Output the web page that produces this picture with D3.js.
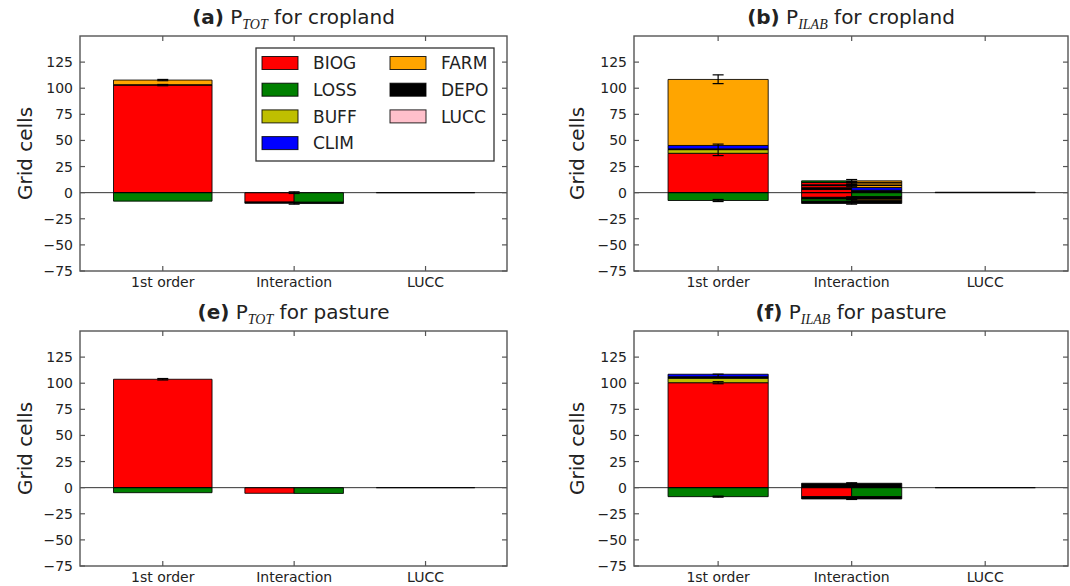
<!DOCTYPE html>
<html>
<head>
<meta charset="utf-8">
<script src="https://cdn.jsdelivr.net/npm/d3@7"></script>
<style>
  html, body { margin: 0; padding: 0; background: #fff; }
  svg { display: block; font-family: "DejaVu Sans", sans-serif; }
</style>
</head>
<body>
<script>
// ---------------- DATA ----------------
const categories = ["1st order", "Interaction", "LUCC"];
const drivers = ["BIOG", "LOSS", "BUFF", "CLIM", "FARM", "DEPO", "LUCC"];
const driverColors = ["#ff0000", "#008000", "#bfbf00", "#0000ff", "#ffa500", "#000000", "#ffc0cb"];
const yTicks = [-75, -50, -25, 0, 25, 50, 75, 100, 125];
const yDomain = [-75, 150];
const xDomain = [-0.63, 2.62];

// stacks: [driver, value]; positives stacked up from 0, negatives stacked down from 0
// (a) P_TOT cropland
const a_first  = [["BIOG", 103], ["DEPO", 0.4], ["FARM", 4.4], ["LOSS", -8.1]];
const a_interL = [["BIOG", -9.0], ["DEPO", -1.2]];
const a_interR = [["LOSS", -9.2], ["DEPO", -1.2]];
const a_lucc   = [["LUCC", 0]];
const a_err    = [["1st order", 103, 0.6], ["1st order", 107.8, 0.6], ["Interaction", 0, 0.8], ["Interaction", -10.2, 0.8]];

// (b) P_ILAB cropland
const b_first  = [["BIOG", 37.7], ["BUFF", 3.5], ["DEPO", 0.8], ["CLIM", 3.2], ["FARM", 63.2], ["LOSS", -7.5]];
const b_interL = [["BIOG", 3.0], ["DEPO", 1.8], ["BIOG", 2.0], ["DEPO", 0.8], ["BIOG", 2.2], ["LOSS", 1.5],
                  ["BIOG", -4.5], ["DEPO", -1.5], ["LOSS", -2.3], ["DEPO", -2.0]];
const b_interR = [["DEPO", 2.3], ["CLIM", 2.6], ["FARM", 2.0], ["DEPO", 0.5], ["FARM", 2.0], ["DEPO", 0.4], ["FARM", 1.5],
                  ["LOSS", -3.8], ["DEPO", -2.6], ["FARM", -1.3], ["DEPO", -2.6]];
const b_lucc   = [["LUCC", 0.4]];
const b_err    = [["1st order", 108.6, 4.2], ["1st order", 41.0, 5.5], ["1st order", -7.5, 1.0],
                  ["Interaction", 11.3, 1.3], ["Interaction", 9.2, 1.3], ["Interaction", 7.0, 1.3],
                  ["Interaction", -5.3, 1.3], ["Interaction", -7.5, 1.3], ["Interaction", -9.7, 1.3]];

// (e) P_TOT pasture
const e_first  = [["BIOG", 103.8], ["LOSS", -4.8]];
const e_interL = [["BIOG", -5.4]];
const e_interR = [["LOSS", -5.5]];
const e_lucc   = [["LUCC", 0]];
const e_err    = [["1st order", 103.8, 0.7]];

// (f) P_ILAB pasture
const f_first  = [["BIOG", 100.5], ["BUFF", 4.3], ["DEPO", 1.5], ["CLIM", 2.3], ["LOSS", -8.6]];
const f_interL = [["DEPO", 4.2], ["BIOG", -8.6], ["DEPO", -2.2]];
const f_interR = [["DEPO", 4.2], ["LOSS", -8.6], ["DEPO", -2.2]];
const f_lucc   = [["LUCC", 0]];
const f_err    = [["1st order", 100.5, 1.0], ["1st order", 107.2, 1.5], ["1st order", -8.6, 0.5],
                  ["Interaction", 4.2, 0.5], ["Interaction", -10.8, 0.5]];

// ---------------- LAYOUT ----------------
const W = 1070, H = 586;
const color = d3.scaleOrdinal().domain(drivers).range(driverColors);
const svg = d3.select("body").append("svg").attr("width", W).attr("height", H);

const panels = [
  { label: "(a)", sub: "TOT",  rest: " for cropland", x0: 80,  x1: 507,  y0: 36,  y1: 271, ylabX: 25,
    stacks: [[a_first, "full", 0], [a_interL, "left", 1], [a_interR, "right", 1], [a_lucc, "full", 2]], err: a_err, legend: true },
  { label: "(b)", sub: "ILAB", rest: " for cropland", x0: 634, x1: 1068, y0: 36,  y1: 271, ylabX: 577,
    stacks: [[b_first, "full", 0], [b_interL, "left", 1], [b_interR, "right", 1], [b_lucc, "full", 2]], err: b_err },
  { label: "(e)", sub: "TOT",  rest: " for pasture",  x0: 80,  x1: 507,  y0: 331, y1: 566, ylabX: 25,
    stacks: [[e_first, "full", 0], [e_interL, "left", 1], [e_interR, "right", 1], [e_lucc, "full", 2]], err: e_err },
  { label: "(f)", sub: "ILAB", rest: " for pasture",  x0: 634, x1: 1068, y0: 331, y1: 566, ylabX: 577,
    stacks: [[f_first, "full", 0], [f_interL, "left", 1], [f_interR, "right", 1], [f_lucc, "full", 2]], err: f_err },
];

const barW = 0.75;
const spineColor = "#555";
const textColor = "#222";

panels.forEach(p => {
  const g = svg.append("g");
  const x = d3.scaleLinear().domain(xDomain).range([p.x0, p.x1]);
  const y = d3.scaleLinear().domain(yDomain).range([p.y1, p.y0]);

  // bars
  p.stacks.forEach(([stack, half, ci]) => {
    let pos = 0, neg = 0;
    let xa, xb;
    if (half === "full") { xa = ci - barW / 2; xb = ci + barW / 2; }
    else if (half === "left") { xa = ci - barW / 2; xb = ci; }
    else { xa = ci; xb = ci + barW / 2; }
    stack.forEach(([drv, v]) => {
      let lo, hi;
      if (v >= 0) { lo = pos; hi = pos + v; pos = hi; }
      else { hi = neg; lo = neg + v; neg = lo; }
      const px0 = x(xa), px1 = x(xb), py0 = y(hi), py1 = y(lo);
      g.append("path")
        .attr("d", `M${px0},${py0}H${px1}V${py1}H${px0}Z`)
        .attr("fill", color(drv))
        .attr("stroke", "#000")
        .attr("stroke-width", 1)
        .attr("stroke-opacity", 0.85);
    });
  });

  // zero line
  g.append("line")
    .attr("x1", p.x0).attr("x2", p.x1)
    .attr("y1", y(0)).attr("y2", y(0))
    .attr("stroke", "#000").attr("stroke-width", 1).attr("stroke-opacity", 0.8);

  // error bars
  const capHalf = 5.5;
  p.err.forEach(([cat, v, e]) => {
    const cx = x(categories.indexOf(cat));
    g.append("line").attr("x1", cx).attr("x2", cx).attr("y1", y(v - e)).attr("y2", y(v + e))
      .attr("stroke", "#000").attr("stroke-width", 1.2);
    [v - e, v + e].forEach(yy => {
      g.append("line").attr("x1", cx - capHalf).attr("x2", cx + capHalf).attr("y1", y(yy)).attr("y2", y(yy))
        .attr("stroke", "#000").attr("stroke-width", 1.2);
    });
  });

  // frame
  g.append("rect")
    .attr("x", p.x0).attr("y", p.y0)
    .attr("width", p.x1 - p.x0).attr("height", p.y1 - p.y0)
    .attr("fill", "none").attr("stroke", spineColor).attr("stroke-width", 1.4);

  // y ticks (inward, both sides) and labels
  const tl = 5;
  yTicks.forEach(t => {
    const yy = y(t);
    g.append("line").attr("x1", p.x0).attr("x2", p.x0 + tl).attr("y1", yy).attr("y2", yy)
      .attr("stroke", spineColor).attr("stroke-width", 1.2);
    g.append("line").attr("x1", p.x1 - tl).attr("x2", p.x1).attr("y1", yy).attr("y2", yy)
      .attr("stroke", spineColor).attr("stroke-width", 1.2);
    g.append("text")
      .attr("x", p.x0 - 7).attr("y", yy).attr("dy", "0.36em")
      .attr("text-anchor", "end").attr("font-size", 14).attr("fill", textColor)
      .text(d3.format("")(t).replace("-", "\u2212"));
  });

  // x ticks and labels
  categories.forEach((c, i) => {
    const xx = x(i);
    g.append("line").attr("x1", xx).attr("x2", xx).attr("y1", p.y1).attr("y2", p.y1 - tl)
      .attr("stroke", spineColor).attr("stroke-width", 1.2);
    g.append("line").attr("x1", xx).attr("x2", xx).attr("y1", p.y0).attr("y2", p.y0 + tl)
      .attr("stroke", spineColor).attr("stroke-width", 1.2);
    g.append("text")
      .attr("x", xx).attr("y", p.y1 + 16)
      .attr("text-anchor", "middle").attr("font-size", 14).attr("fill", textColor)
      .text(c);
  });

  // y label
  const ymid = (p.y0 + p.y1) / 2;
  g.append("text")
    .attr("transform", `translate(${p.ylabX + 7},${ymid}) rotate(-90)`)
    .attr("text-anchor", "middle").attr("font-size", 20).attr("fill", textColor)
    .text("Grid cells");

  // title
  const t = g.append("text")
    .attr("x", (p.x0 + p.x1) / 2).attr("y", p.y0 - 12)
    .attr("text-anchor", "middle").attr("font-size", 20).attr("fill", textColor);
  t.append("tspan").attr("font-weight", "bold").text(p.label);
  t.append("tspan").text(" P");
  t.append("tspan").attr("font-family", "'Liberation Serif', serif").attr("font-style", "italic")
    .attr("font-size", 14).attr("dy", 5).text(p.sub);
  t.append("tspan").attr("dy", -5).text(p.rest);

  // legend
  if (p.legend) {
    const lx = 256, ly = 48, lw = 238, lh = 113;
    const lg = g.append("g");
    lg.append("rect").attr("x", lx).attr("y", ly).attr("width", lw).attr("height", lh)
      .attr("fill", "#fff").attr("stroke", "#333").attr("stroke-width", 1.3);
    drivers.forEach((d, i) => {
      const col = i < 4 ? 0 : 1;
      const row = i < 4 ? i : i - 4;
      const px = lx + 6 + col * 128;
      const py = ly + 15 + row * 26.7;
      lg.append("rect").attr("x", px).attr("y", py - 6.5).attr("width", 36).attr("height", 13)
        .attr("fill", color(d)).attr("stroke", "#000").attr("stroke-width", 1).attr("stroke-opacity", 0.85);
      lg.append("text").attr("x", px + 51).attr("y", py).attr("dy", "0.36em")
        .attr("font-size", 17).attr("fill", textColor).text(d);
    });
  }
});
</script>
</body>
</html>
